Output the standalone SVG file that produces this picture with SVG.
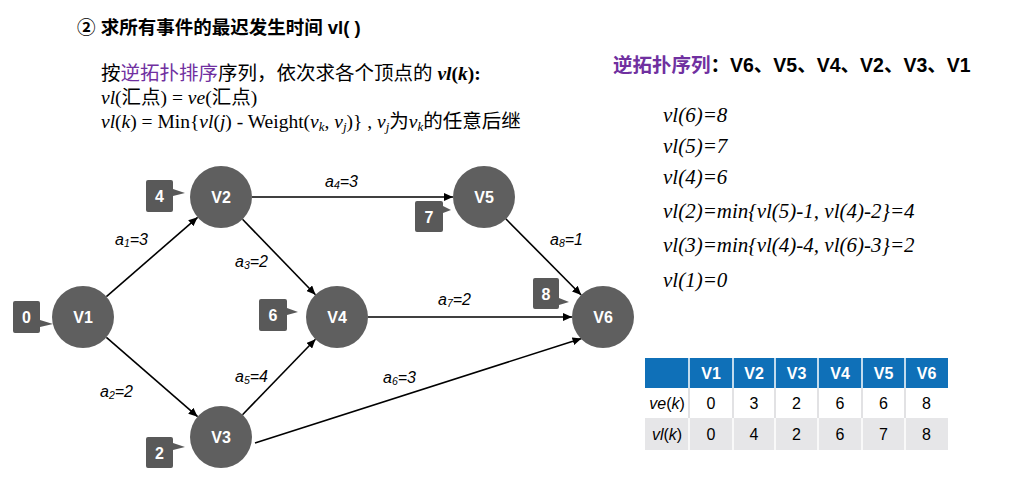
<svg xmlns="http://www.w3.org/2000/svg" width="1011" height="481" viewBox="0 0 1011 481">
<style>
.title{font-family:"Liberation Sans","Noto Sans CJK SC",sans-serif;font-weight:bold;font-size:18.5px;fill:#000}
.body{font-family:"Liberation Serif","Noto Sans CJK SC",serif;font-size:19.5px;fill:#000}
.it{font-style:italic}
.purple{fill:#7030A0}
.rhead{font-family:"Liberation Sans","Noto Sans CJK SC",sans-serif;font-weight:bold;font-size:19.5px;fill:#000}
.vl{font-family:"Liberation Serif",serif;font-style:italic;font-size:21px;fill:#000}
.node circle{fill:#5f5f5f}
.node text{font-family:"Liberation Sans",sans-serif;font-weight:bold;font-size:16px;fill:#fff;text-anchor:middle}
.tag path{fill:#595959}
.tag text{font-family:"Liberation Sans",sans-serif;font-weight:bold;font-size:16px;fill:#fff;text-anchor:middle}
.edges line{stroke:#000;stroke-width:1.6;marker-end:url(#arr)}
.elab{font-family:"Liberation Sans",sans-serif;font-style:italic;font-size:16px;fill:#000}
.sub{font-size:10.5px}
.th{font-family:"Liberation Sans",sans-serif;font-weight:bold;font-size:16px;fill:#fff;text-anchor:middle}
.td{font-family:"Liberation Sans",sans-serif;font-size:16px;fill:#000;text-anchor:middle}
</style>
<defs>
<marker id="arr" markerUnits="userSpaceOnUse" markerWidth="10" markerHeight="8" refX="9" refY="4" orient="auto">
<path d="M0,0 L9,4 L0,8 Z" fill="#000"/>
</marker>
</defs>
<rect width="1011" height="481" fill="#fff"/>

<text class="title" x="77" y="34">② 求所有事件的最迟发生时间 vl( )</text>

<text class="body" x="101" y="80">按<tspan class="purple">逆拓扑排序</tspan>序列，依次求各个顶点的 <tspan class="it" font-weight="bold">vl</tspan><tspan font-weight="bold">(</tspan><tspan class="it" font-weight="bold">k</tspan><tspan font-weight="bold">):</tspan></text>
<text class="body" x="101" y="104"><tspan class="it">vl</tspan>(汇点) = <tspan class="it">ve</tspan>(汇点)</text>
<text class="body" x="101" y="128"><tspan class="it">vl</tspan>(<tspan class="it">k</tspan>) = Min{<tspan class="it">vl</tspan>(<tspan class="it">j</tspan>) - Weight(<tspan class="it">v</tspan><tspan class="it" font-size="13px" dy="3">k</tspan><tspan dy="-3">, </tspan><tspan class="it">v</tspan><tspan class="it" font-size="13px" dy="3">j</tspan><tspan dy="-3">)} , </tspan><tspan class="it">v</tspan><tspan class="it" font-size="13px" dy="3">j</tspan><tspan dy="-3">为</tspan><tspan class="it">v</tspan><tspan class="it" font-size="13px" dy="3">k</tspan><tspan dy="-3">的任意后继</tspan></text>

<text class="rhead" x="613" y="72"><tspan class="purple">逆拓扑序列</tspan>：V6、V5、V4、V2、V3、V1</text>

<text class="vl" x="663" y="122">vl(6)=8</text>
<text class="vl" x="663" y="153">vl(5)=7</text>
<text class="vl" x="663" y="184">vl(4)=6</text>
<text class="vl" x="663" y="218">vl(2)=min{vl(5)-1, vl(4)-2}=4</text>
<text class="vl" x="663" y="252">vl(3)=min{vl(4)-4, vl(6)-3}=2</text>
<text class="vl" x="663" y="287">vl(1)=0</text>

<g id="connectors" class="edges">
<line id="e-v1-v2" x1="106.4" y1="296.7" x2="197.6" y2="217.3"/>
<line id="e-v1-v3" x1="106.4" y1="337.3" x2="197.6" y2="416.7"/>
<line id="e-v2-v5" x1="252" y1="197" x2="453" y2="197"/>
<line id="e-v2-v4" x1="242.5" y1="219.3" x2="315.5" y2="294.7"/>
<line id="e-v3-v4" x1="242.5" y1="414.7" x2="315.5" y2="339.3"/>
<line id="e-v3-v6" x1="255" y1="443" x2="581.5" y2="338.5"/>
<line id="e-v4-v6" x1="368" y1="317" x2="572" y2="317"/>
<line id="e-v5-v6" x1="505.8" y1="218.8" x2="581.2" y2="295"/>
</g>

<g id="edge-labels">
<text class="elab" x="115" y="245">a<tspan class="sub" dy="2">1</tspan><tspan dy="-2">=3</tspan></text>
<text class="elab" x="100" y="397">a<tspan class="sub" dy="2">2</tspan><tspan dy="-2">=2</tspan></text>
<text class="elab" x="235" y="267">a<tspan class="sub" dy="2">3</tspan><tspan dy="-2">=2</tspan></text>
<text class="elab" x="325" y="187">a<tspan class="sub" dy="2">4</tspan><tspan dy="-2">=3</tspan></text>
<text class="elab" x="235" y="382">a<tspan class="sub" dy="2">5</tspan><tspan dy="-2">=4</tspan></text>
<text class="elab" x="383" y="383">a<tspan class="sub" dy="2">6</tspan><tspan dy="-2">=3</tspan></text>
<text class="elab" x="438" y="305">a<tspan class="sub" dy="2">7</tspan><tspan dy="-2">=2</tspan></text>
<text class="elab" x="550" y="245">a<tspan class="sub" dy="2">8</tspan><tspan dy="-2">=1</tspan></text>
</g>

<g id="node-v1" class="node"><circle cx="83" cy="317" r="31"/><text x="83" y="323">V1</text></g>
<g id="node-v2" class="node"><circle cx="221" cy="197" r="31"/><text x="221" y="203">V2</text></g>
<g id="node-v3" class="node"><circle cx="221" cy="437" r="31"/><text x="221" y="443">V3</text></g>
<g id="node-v4" class="node"><circle cx="337" cy="317" r="31"/><text x="337" y="323">V4</text></g>
<g id="node-v5" class="node"><circle cx="484" cy="197" r="31"/><text x="484" y="203">V5</text></g>
<g id="node-v6" class="node"><circle cx="603" cy="317" r="31"/><text x="603" y="323">V6</text></g>

<g id="tag-v1" class="tag"><path d="M15,301 H38 Q40,301 40,303 V320 L53,324 L40,327 V331 Q40,333 38,333 H15 Q13,333 13,331 V303 Q13,301 15,301 Z"/><text x="26.5" y="323">0</text></g>
<g id="tag-v2" class="tag"><path d="M148,180 H171 Q173,180 173,182 V189 L185,193 L173,196 V210 Q173,212 171,212 H148 Q146,212 146,210 V182 Q146,180 148,180 Z"/><text x="159.5" y="202">4</text></g>
<g id="tag-v3" class="tag"><path d="M148,437 H171 Q173,437 173,439 V443 L185,447 L173,450 V466 Q173,468 171,468 H148 Q146,468 146,466 V439 Q146,437 148,437 Z"/><text x="159.5" y="459">2</text></g>
<g id="tag-v4" class="tag"><path d="M261,299 H285 Q287,299 287,301 V308 L298,312 L287,315 V329 Q287,331 285,331 H261 Q259,331 259,329 V301 Q259,299 261,299 Z"/><text x="273" y="321">6</text></g>
<g id="tag-v5" class="tag"><path d="M417,201 H441 Q443,201 443,203 V206 L451,210 L443,213 V230 Q443,232 441,232 H417 Q415,232 415,230 V203 Q415,201 417,201 Z"/><text x="429" y="223">7</text></g>
<g id="tag-v6" class="tag"><path d="M535,278 H557 Q559,278 559,280 V298 L569,302 L559,305 V307 Q559,309 557,309 H535 Q533,309 533,307 V280 Q533,278 535,278 Z"/><text x="546" y="300">8</text></g>

<g id="table">
<rect x="645" y="358" width="303" height="30" fill="#0F70B8"/>
<rect x="645" y="388" width="303" height="30" fill="#ffffff"/>
<rect x="645" y="418" width="303" height="32" fill="#E6E6E8"/>
<g stroke="#ffffff" stroke-width="1.5">
<line x1="689" y1="358" x2="689" y2="388"/><line x1="733" y1="358" x2="733" y2="388"/><line x1="775" y1="358" x2="775" y2="388"/><line x1="818" y1="358" x2="818" y2="388"/><line x1="862" y1="358" x2="862" y2="388"/><line x1="905" y1="358" x2="905" y2="388"/>
<line x1="689" y1="418" x2="689" y2="450"/><line x1="733" y1="418" x2="733" y2="450"/><line x1="775" y1="418" x2="775" y2="450"/><line x1="818" y1="418" x2="818" y2="450"/><line x1="862" y1="418" x2="862" y2="450"/><line x1="905" y1="418" x2="905" y2="450"/>
</g>
<g stroke="#D9D9DB" stroke-width="1.5">
<line x1="689" y1="388" x2="689" y2="418"/><line x1="733" y1="388" x2="733" y2="418"/><line x1="775" y1="388" x2="775" y2="418"/><line x1="818" y1="388" x2="818" y2="418"/><line x1="862" y1="388" x2="862" y2="418"/><line x1="905" y1="388" x2="905" y2="418"/>
</g>
<text class="th" x="711" y="379">V1</text><text class="th" x="754" y="379">V2</text><text class="th" x="796.5" y="379">V3</text><text class="th" x="840" y="379">V4</text><text class="th" x="883.5" y="379">V5</text><text class="th" x="926.5" y="379">V6</text>
<text class="td" x="667" y="409"><tspan font-style="italic">ve</tspan>(<tspan font-style="italic">k</tspan>)</text>
<text class="td" x="711" y="409">0</text><text class="td" x="754" y="409">3</text><text class="td" x="796.5" y="409">2</text><text class="td" x="840" y="409">6</text><text class="td" x="883.5" y="409">6</text><text class="td" x="926.5" y="409">8</text>
<text class="td" x="667" y="440"><tspan font-style="italic">vl</tspan>(<tspan font-style="italic">k</tspan>)</text>
<text class="td" x="711" y="440">0</text><text class="td" x="754" y="440">4</text><text class="td" x="796.5" y="440">2</text><text class="td" x="840" y="440">6</text><text class="td" x="883.5" y="440">7</text><text class="td" x="926.5" y="440">8</text>
</g>
</svg>
